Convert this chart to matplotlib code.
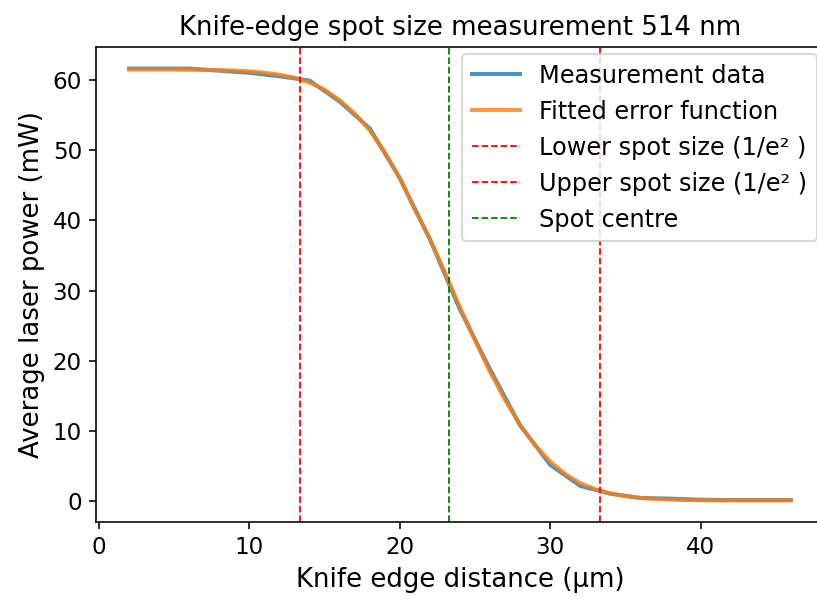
import numpy as np
import matplotlib
matplotlib.use("Agg")
import matplotlib.pyplot as plt

# Measured knife-edge data (um, mW)
x_meas = [2, 4, 6, 8, 10, 12, 14, 16, 18, 20, 22, 24, 26, 28, 30, 32, 34, 36, 38, 40, 42, 44, 46]
p_meas = [61.6, 61.6, 61.6, 61.3, 61.0, 60.5, 59.9, 56.9, 53.1, 46.0, 37.3, 27.3, 18.8, 10.8,
          5.2, 2.2, 1.1, 0.5, 0.4, 0.25, 0.2, 0.2, 0.2]

# Fitted error function
x_fit = list(range(2, 47))
p_fit = [61.45, 61.45, 61.45, 61.45, 61.43, 61.42, 61.38, 61.33, 61.21, 61.03, 60.72,
         60.3, 59.6, 58.6, 57.1, 55.2, 52.8, 49.7, 46.0, 41.5, 37.4, 32.6, 27.6, 22.9,
         18.4, 14.4, 10.9, 8.0, 5.7, 3.9, 2.6, 1.75, 1.15, 0.75, 0.5, 0.35, 0.25, 0.2,
         0.17, 0.16, 0.15, 0.15, 0.15, 0.15, 0.15]

spot_lower = 13.35
spot_centre = 23.3
spot_upper = 33.3

fig = plt.figure(figsize=(817 / 144, 599 / 144), dpi=144)
ax = fig.add_axes([96 / 817, 77 / 599, (824 - 96) / 817, (522 - 47) / 599])

ax.plot(x_meas, p_meas, lw=2, alpha=0.8, label="Measurement data")
ax.plot(x_fit, p_fit, lw=2, alpha=0.8, label="Fitted error function")
ax.axvline(spot_lower, color="r", ls="--", lw=0.9, label="Lower spot size (1/e² )")
ax.axvline(spot_upper, color="r", ls="--", lw=0.9, label="Upper spot size (1/e² )")
ax.axvline(spot_centre, color="g", ls="--", lw=0.9, label="Spot centre")

ax.set_title("Knife-edge spot size measurement 514 nm", fontsize=13)
ax.set_xlabel("Knife edge distance (μm)", fontsize=13)
ax.set_ylabel("Average laser power (mW)", fontsize=13)
ax.tick_params(labelsize=11.5)
ax.spines["right"].set_visible(False)
ax.legend(loc="upper right", fontsize=12, borderaxespad=0.3)

fig.savefig("out.png", dpi=144)
